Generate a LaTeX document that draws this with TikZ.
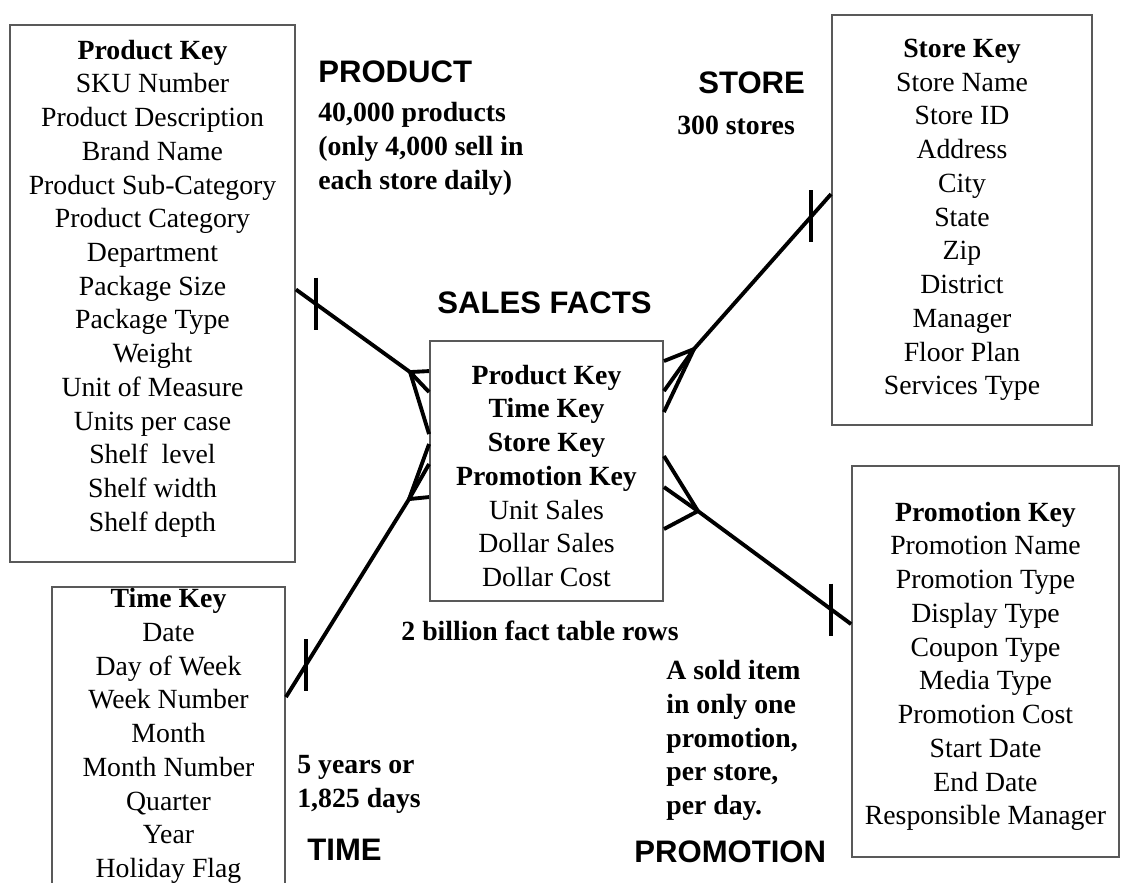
\documentclass[tikz,border=0pt]{standalone}
\usepackage{fontspec}
\setmainfont{Liberation Serif}
\newfontfamily\headfont{Liberation Sans}
\usetikzlibrary{calc}
\newcommand{\tblfont}{\fontsize{15.8}{19.2}\selectfont}
\newcommand{\ttlfont}{\headfont\bfseries\fontsize{17.7}{21}\selectfont}
\tikzset{
tbl/.style={
	rectangle,
	draw=black!65,
	line width=1.1pt,
	align=center,
	font=\tblfont,
	inner sep=0pt
},
title/.style={
	font=\ttlfont,
	inner sep=0pt,
	anchor=west
},
note/.style={
	font=\tblfont\bfseries,
	align=left,
	inner sep=0pt
},
link/.style={
	line width=2.2pt,
	draw=black,
	line join=round
}
}

\begin{document}
\begin{tikzpicture}[x=0.02cm, y=-0.02cm]
\useasboundingbox (0,0) rectangle (1125,882);
% ===== Dimension tables and the fact table =====
\node (prod)  [tbl, minimum width=5.7cm,  minimum height=10.74cm] at (152.5,293.5)
  {\textbf{Product Key}\\SKU Number\\Product Description\\Brand Name\\Product Sub-Category\\Product Category\\Department\\Package Size\\Package Type\\Weight\\Unit of Measure\\Units per case\\Shelf\ \ level\\Shelf width\\Shelf depth\rule[-9pt]{0pt}{0pt}};
\node (store) [tbl, minimum width=5.2cm,  minimum height=8.2cm]   at (962,220)
  {\textbf{Store Key}\\Store Name\\Store ID\\Address\\City\\State\\Zip\\District\\Manager\\Floor Plan\\Services Type};
\node (fact)  [tbl, minimum width=4.66cm, minimum height=5.2cm]   at (546.5,471)
  {\rule{0pt}{16.5pt}\textbf{Product Key}\\\textbf{Time Key}\\\textbf{Store Key}\\\textbf{Promotion Key}\\Unit Sales\\Dollar Sales\\Dollar Cost};
\node (time)  [tbl, minimum width=4.66cm, minimum height=5.96cm]  at (168.5,736)
  {\textbf{Time Key}\\Date\\Day of Week\\Week Number\\Month\\Month Number\\Quarter\\Year\\Holiday Flag};
\node (promo) [tbl, minimum width=5.34cm, minimum height=7.82cm]  at (985.5,661.5)
  {\rule{0pt}{16.5pt}\textbf{Promotion Key}\\Promotion Name\\Promotion Type\\Display Type\\Coupon Type\\Media Type\\Promotion Cost\\Start Date\\End Date\\Responsible Manager};

% ===== Titles =====
\node (prodT)  [title] at (318,72)  {PRODUCT};
\node (storeT) [title] at (698,83)  {STORE};
\node (factT)  [title] at (437,303) {SALES FACTS};
\node (timeT)  [title] at (307,850) {TIME};
\node (promoT) [title] at (634,852) {PROMOTION};

% ===== Notes =====
\node (prodN)  [note, anchor=north west] at (318,102) {40,000 products\\(only 4,000 sell in\\each store daily)};
\node (storeN) [note, anchor=west]       at (677,125) {300 stores};
\node (factN)  [note]                    at (540,631) {2 billion fact table rows};
\node (timeN)  [note, anchor=north west] at (297,755) {5 years or\\1,825 days};
\node (promoN) [note, anchor=north west] at (666,660) {A sold item\\in only one\\promotion,\\per store,\\per day.};

% ===== Connector ends and crow's-foot vertices =====
\coordinate (pa) at ($(prod.east)+(0,-4)$);
\coordinate (ta) at ($(time.north east)+(0,111)$);
\coordinate (sa) at ($(store.north west)+(0,180)$);
\coordinate (ma) at ($(promo.north west)+(0,159)$);
\coordinate (pv) at ($(fact.north west)+(-19,32)$);
\coordinate (tv) at ($(fact.north west)+(-20,159)$);
\coordinate (sv) at ($(fact.north east)+(30,9)$);
\coordinate (mv) at ($(fact.north east)+(34,171)$);

% product -> fact (one to many)
\draw [link] (pa) -- (pv) -- ($(fact.north west)+(0,52)$);
\draw [link] ($(fact.north west)+(0,31)$) -- (pv) -- ($(fact.north west)+(0,94)$);
\draw [link] ($(pa)!0.172!(pv)$) ++(0,-26) -- ++(0,52);
% time -> fact
\draw [link] (ta) -- (tv) -- ($(fact.north west)+(0,124)$);
\draw [link] ($(fact.north west)+(0,104)$) -- (tv) -- ($(fact.north west)+(0,157)$);
\draw [link] ($(ta)!0.16!(tv)$) ++(0,-26) -- ++(0,52);
% store -> fact
\draw [link] (sa) -- (sv) -- ($(fact.north east)+(0,72)$);
\draw [link] ($(fact.north east)+(0,21)$) -- (sv) -- ($(fact.north east)+(0,51)$);
\draw [link] ($(sa)!0.144!(sv)$) ++(0,-26) -- ++(0,52);
% promotion -> fact
\draw [link] (ma) -- (mv) -- ($(fact.north east)+(0,116)$);
\draw [link] ($(fact.north east)+(0,147)$) -- (mv) -- ($(fact.north east)+(0,189)$);
\draw [link] ($(ma)!0.129!(mv)$) ++(0,-26) -- ++(0,52);

\end{tikzpicture}
\end{document}
